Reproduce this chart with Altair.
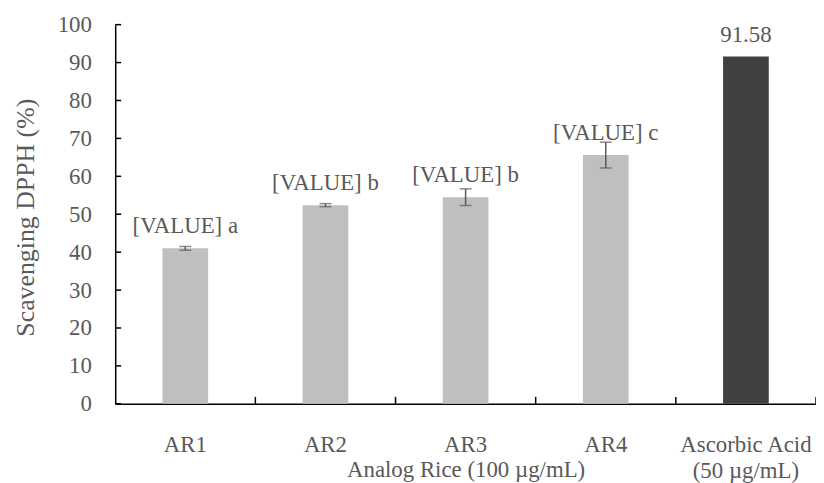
import altair as alt
import pandas as pd

categories = ["AR1", "AR2", "AR3", "AR4", "Ascorbic Acid"]
values = [41.0, 52.4, 54.5, 65.6, 91.58]
errors = [0.5, 0.4, 2.2, 3.4, 0.0]
bar_labels = ["[VALUE] a", "[VALUE] b", "[VALUE] b", "[VALUE] c", "91.58"]
groups = ["Analog Rice", "Analog Rice", "Analog Rice", "Analog Rice", "Control"]
y_ticks = [0, 10, 20, 30, 40, 50, 60, 70, 80, 90, 100]

df = pd.DataFrame({"cat": categories, "val": values, "err": errors,
                   "lab": bar_labels, "grp": groups})
ticks_df = pd.DataFrame({"t": y_ticks})

W, H = 706, 382
FONT = "Liberation Serif"
GREY = "#595959"

xscale = alt.Scale(domain=categories, paddingInner=0, paddingOuter=0)
yscale = alt.Scale(domain=[0, 100], nice=False)

x_axis = alt.Axis(
    title="Analog Rice (100 µg/mL)", titleX=353, titleY=73, titleAlign="center",
    titleAnchor=None, titleBaseline="alphabetic", titleFontSize=23,
    titleFont=FONT, titleColor=GREY, titleFontWeight="normal",
    labelAngle=0, ticks=False, labelPadding=30, labelBaseline="top",
    labelLineHeight=26, labelFontSize=23, labelFont=FONT, labelColor=GREY,
    labelExpr="datum.value == 'Ascorbic Acid' ? ['Ascorbic Acid', '(50 µg/mL)'] : datum.value",
    domainColor="black", domainWidth=1.5,
)
y_axis = alt.Axis(
    title="Scavenging DPPH (%)", values=y_ticks, ticks=False, grid=False,
    labelOverlap=False, labelFontSize=23, labelFont=FONT, labelColor=GREY,
    labelPadding=24, domainColor="black", domainWidth=1.5,
    titleX=-90, titleY=194, titleAngle=-90, titleBaseline="middle",
    titleAlign="center", titleAnchor=None, titleFontSize=26,
    titleFont=FONT, titleColor=GREY, titleFontWeight="normal",
)


def X(**kw):
    return alt.X("cat:N", scale=xscale, sort=categories, axis=x_axis, **kw)


def Y(field):
    return alt.Y(field, scale=yscale, axis=y_axis)


base = alt.Chart(df)

bars = base.mark_bar(width=alt.RelativeBandSize(0.326)).encode(
    x=X(), y=Y("val:Q"),
    color=alt.Color("grp:N", scale=alt.Scale(domain=["Analog Rice", "Control"],
                                             range=["#bfbfbf", "#404040"]), legend=None),
)

err_df = base.transform_filter("datum.err > 0").transform_calculate(
    lo="datum.val - datum.err", hi="datum.val + datum.err")

err_rule = err_df.mark_rule(color=GREY, strokeWidth=1.5).encode(
    x=X(), y=Y("lo:Q"), y2="hi:Q")
err_lo = err_df.mark_tick(color=GREY, thickness=1.5, size=12, orient="horizontal").encode(
    x=X(), y=Y("lo:Q"))
err_hi = err_df.mark_tick(color=GREY, thickness=1.5, size=12, orient="horizontal").encode(
    x=X(), y=Y("hi:Q"))

texts = base.mark_text(font=FONT, fontSize=23, color=GREY, baseline="alphabetic", dy=-15).encode(
    x=X(), y=Y("val:Q"), text="lab:N",
)

y_tick_marks = alt.Chart(ticks_df).mark_rule(color="black", strokeWidth=1.5).encode(
    y=Y("t:Q"), x=alt.value(0), x2=alt.value(6))

x_tick_marks = base.mark_rule(color="black", strokeWidth=1.5).encode(
    x=X(bandPosition=1), y=alt.value(H), y2=alt.value(H - 7))

chart = alt.layer(bars, err_rule, err_lo, err_hi, texts, y_tick_marks, x_tick_marks).properties(
    width=W, height=H,
    autosize=alt.AutoSizeParams(type="none"),
    padding={"left": 108, "top": 15, "right": 0, "bottom": 78},
).configure(font=FONT).configure_view(stroke=None)

chart.save("out.html", embed_options={"renderer": "svg", "actions": False})
